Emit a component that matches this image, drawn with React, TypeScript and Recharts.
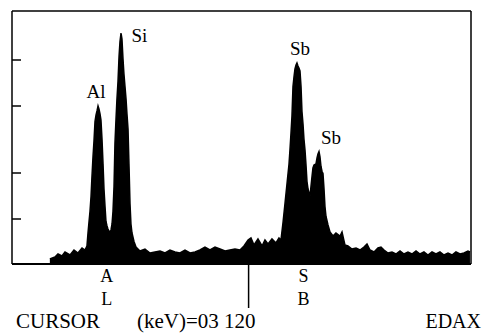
import { Area, AreaChart, ReferenceDot, ReferenceLine, XAxis, YAxis } from "recharts";

// EDAX spectrum. energy in keV, counts in arbitrary units
const energyKeV = [
  0.99, 1.044, 1.076, 1.118, 1.15, 1.203, 1.245, 1.287, 1.33, 1.361,
  1.382, 1.393, 1.404, 1.414, 1.425, 1.435, 1.446, 1.456, 1.467, 1.478,
  1.488, 1.499, 1.509, 1.52, 1.53, 1.541, 1.552, 1.562, 1.573, 1.583,
  1.594, 1.604, 1.615, 1.626, 1.636, 1.647, 1.657, 1.668, 1.678, 1.689,
  1.699, 1.71, 1.721, 1.731, 1.742, 1.752, 1.763, 1.773, 1.784, 1.795,
  1.805, 1.816, 1.826, 1.837, 1.847, 1.858, 1.879, 1.9, 1.942, 1.995,
  2.048, 2.101, 2.154, 2.207, 2.259, 2.312, 2.365, 2.418, 2.471, 2.524,
  2.576, 2.629, 2.682, 2.735, 2.788, 2.841, 2.893, 2.946, 2.999, 3.041,
  3.084, 3.115, 3.147, 3.189, 3.232, 3.263, 3.295, 3.337, 3.379, 3.411,
  3.432, 3.453, 3.475, 3.496, 3.517, 3.527, 3.538, 3.548, 3.559, 3.57,
  3.58, 3.591, 3.601, 3.612, 3.622, 3.633, 3.644, 3.654, 3.665, 3.675,
  3.686, 3.696, 3.707, 3.718, 3.739, 3.749, 3.76, 3.77, 3.781, 3.802,
  3.813, 3.823, 3.834, 3.844, 3.855, 3.866, 3.876, 3.887, 3.897, 3.908,
  3.929, 3.95, 3.982, 4.013, 4.056, 4.077, 4.108, 4.14, 4.182, 4.225,
  4.267, 4.309, 4.341, 4.373, 4.415, 4.457, 4.489, 4.521, 4.563, 4.605,
  4.647, 4.69, 4.732, 4.774, 4.816, 4.859, 4.901, 4.943, 4.985, 5.028,
  5.07, 5.112, 5.155, 5.197, 5.239, 5.281, 5.324, 5.366, 5.408, 5.429,
];

const counts = [
  10, 14, 20, 16, 24, 18, 28, 22, 32, 28,
  36, 62, 85, 105, 135, 175, 215, 245, 285, 298,
  306, 316, 310, 300, 288, 250, 200, 150, 115, 85,
  76, 70, 66, 64, 68, 80, 105, 155, 242, 290,
  330, 365, 415, 445, 462, 450, 410, 380, 355, 330,
  300, 270, 200, 120, 80, 62, 45, 34, 26, 30,
  22, 24, 26, 22, 28, 24, 22, 28, 22, 24,
  28, 34, 28, 34, 30, 26, 28, 30, 28, 36,
  48, 52, 38, 50, 36, 48, 40, 50, 42, 52,
  48, 82, 122, 161, 200, 228, 262, 295, 355, 375,
  390, 398, 402, 396, 392, 386, 355, 305, 280, 250,
  228, 200, 165, 150, 135, 155, 175, 192, 198, 200,
  212, 220, 225, 215, 195, 185, 181, 150, 115, 95,
  78, 64, 56, 62, 56, 64, 38, 36, 30, 32,
  28, 34, 40, 28, 24, 32, 34, 28, 22, 24,
  20, 26, 20, 24, 20, 26, 20, 24, 18, 24,
  20, 24, 18, 22, 18, 24, 20, 22, 26, 24,
];

const yTicks = [90, 182, 316, 408];

// element markers under the axis (AL, SB) and the cursor position
const markerKeV = [1.59, 3.67];
const markerLetters = [
  ["A", "L"],
  ["S", "B"],
];
const cursorKeV = 3.09;

const peakNames = ["Al", "Si", "Sb", "Sb"];
const peakLabelKeV = [1.478, 1.937, 3.633, 3.961];
const peakLabelCounts = [346, 457, 431, 253];

const X_DOMAIN: [number, number] = [0.59, 5.44];
const Y_DOMAIN: [number, number] = [0, 506];
const FONT = "Liberation Serif, Times New Roman, DejaVu Serif, serif";

const data = energyKeV.map((kev, i) => ({ kev, counts: counts[i] }));

function MarkerTick(props: any) {
  const { x, y, payload } = props;
  const v = payload.value;
  if (v === cursorKeV) {
    return <line stroke="#000" strokeWidth={1.5} x1={x} x2={x} y1={y} y2={y + 44} />;
  }
  const idx = markerKeV.indexOf(v);
  if (idx < 0) return <g />;
  const [top, bottom] = markerLetters[idx];
  return (
    <g fill="#000" fontSize={18} style={{ fontFamily: FONT }} textAnchor="middle">
      <text x={x} y={y + 18}>{top}</text>
      <text x={x} y={y + 41}>{bottom}</text>
    </g>
  );
}

function InwardTick(props: any) {
  const { x, y } = props;
  return <line stroke="#000" strokeWidth={1.5} x1={x} x2={x + 9} y1={y} y2={y} />;
}

export default function App() {
  return (
    <div style={{ position: "relative", width: 483, height: 333, background: "#fff" }}>
      <style>{"body{margin:0} .recharts-reference-dot text{font-family:" + FONT + "}"}</style>
      <AreaChart
        data={data}
        height={333}
        margin={{ bottom: 68, left: 11, right: 12, top: 11 }}
        width={483}
      >
        <XAxis
          allowDataOverflow
          axisLine={{ stroke: "#000", strokeWidth: 2 }}
          dataKey="kev"
          domain={X_DOMAIN}
          height={1}
          interval={0}
          tick={<MarkerTick />}
          tickLine={false}
          tickMargin={0}
          tickSize={0}
          ticks={[markerKeV[0], cursorKeV, markerKeV[1]]}
          type="number"
        />
        <YAxis
          axisLine={{ stroke: "#000", strokeWidth: 1.5 }}
          domain={Y_DOMAIN}
          interval={0}
          tick={<InwardTick />}
          tickLine={false}
          tickMargin={0}
          tickSize={0}
          ticks={yTicks}
          width={1}
        />
        <ReferenceLine stroke="#000" strokeWidth={1.5} y={Y_DOMAIN[1]} />
        <ReferenceLine stroke="#000" strokeWidth={1.5} x={X_DOMAIN[1]} />
        <Area
          baseValue={0}
          dataKey="counts"
          fill="#000"
          fillOpacity={1}
          isAnimationActive={false}
          stroke="#000"
          strokeWidth={1.5}
          type="linear"
        />
        {peakNames.map((name, i) => (
          <ReferenceDot
            fill="none"
            key={i}
            label={{ value: name, position: "center", fill: "#000", fontSize: 19 }}
            r={0}
            stroke="none"
            x={peakLabelKeV[i]}
            y={peakLabelCounts[i]}
          />
        ))}
      </AreaChart>
      <svg
        height={333}
        style={{ position: "absolute", left: 0, top: 0, pointerEvents: "none", fontFamily: FONT }}
        width={483}
      >
        <g fill="#000" fontSize={21}>
          <text x={16} y={328}>CURSOR</text>
          <text x={137} y={328}>(keV)=03 120</text>
          <text fontSize={20} textAnchor="end" x={481} y={328}>EDAX</text>
        </g>
      </svg>
    </div>
  );
}
